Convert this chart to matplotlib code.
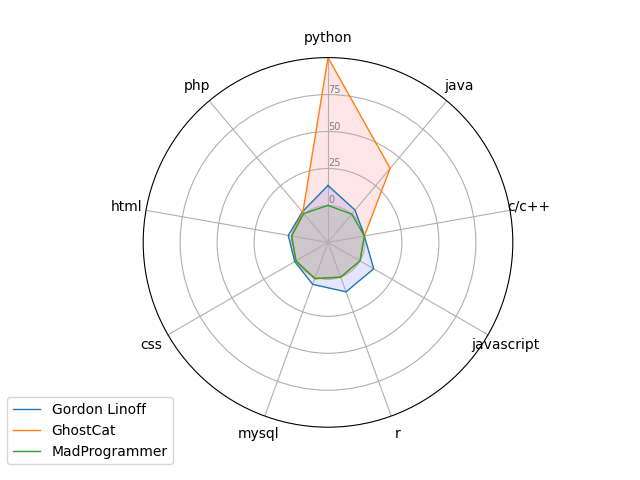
import numpy as np
import matplotlib
matplotlib.use("Agg")
import matplotlib.pyplot as plt

categories = ["python", "java", "c/c++", "javascript", "r", "mysql", "css", "html", "php"]
gordon = [13.5, 3.5, 0, 10.7, 10.6, 5.2, 1, 2.3, 2]
ghostcat = [100, 40.4, 0, 0, 0, 1.2, 0, 0, 1.5]
madprog = [0, 0, 0, 0, 0, 1, 0, 0, 0.5]

series = [("Gordon Linoff", gordon, "b"),
          ("GhostCat", ghostcat, "r"),
          ("MadProgrammer", madprog, "g")]

n = len(categories)
angles = [i / float(n) * 2 * np.pi for i in range(n)]
angles += angles[:1]

fig = plt.figure(figsize=(6.4, 4.8), dpi=100)
ax = plt.subplot(111, polar=True)
ax.set_theta_offset(np.pi / 2)
ax.set_theta_direction(-1)

plt.xticks(angles[:-1], categories)
ax.set_rlabel_position(0)
plt.yticks([0, 25, 50, 75], ["0", "25", "50", "75"], color="grey", size=7)
plt.ylim(-25, 100)

for name, vals, fill in series:
    v = list(vals) + vals[:1]
    ax.plot(angles, v, linewidth=1, linestyle="solid", label=name)
    ax.fill(angles, v, fill, alpha=0.1)

plt.legend(loc="upper right", bbox_to_anchor=(0.1, 0.1))
fig.savefig("out.png")
